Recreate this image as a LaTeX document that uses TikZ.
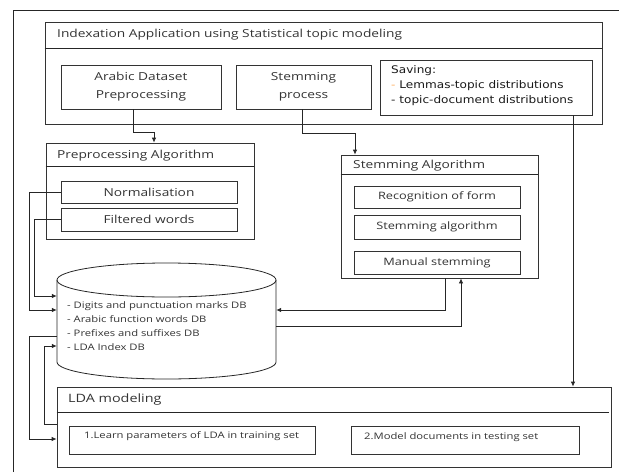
\documentclass[tikz,border=0pt]{standalone}
\usepackage{fontspec}
\setmainfont[FakeStretch=1.25]{Open Sans}
\newfontfamily\savfont[FakeStretch=1.15]{DejaVu Sans}
\usetikzlibrary{arrows.meta}
\begin{document}
\begin{tikzpicture}[x=1pt,y=-1pt,
  line/.style={draw=black!85, line width=0.8pt},
  arr/.style={line, -{Latex[length=5pt,width=4.5pt]}},
  boxx/.style={draw=black!80, line width=0.8pt, inner sep=0, text=black!80},
  lbl/.style={inner sep=0, anchor=west, text=black!80, font=\fontsize{11}{13}\selectfont},
  small/.style={inner sep=0, anchor=west, text=black!80, font=\fontsize{9}{11}\selectfont}
]
\useasboundingbox (0,0) rectangle (619,472);
% outer frame (cut by picture edge)
\draw[line] (13,472) -- (13,10) -- (619,10);

% top container
\node[boxx, minimum width=557pt, minimum height=102pt] (idx) at (323.5,73) {};
\draw[line] ([yshift=-27pt]idx.north west) -- ([yshift=-27pt]idx.north east);
\node[lbl] (idxt) at (57,35) {Indexation Application using Statistical topic modeling};

\node[boxx, minimum width=160pt, minimum height=44pt, align=center, font=\fontsize{11}{18}\selectfont] (ads) at (141,87) {Arabic Dataset\\Preprocessing};
\node[boxx, minimum width=135pt, minimum height=44pt, align=center, font=\fontsize{11}{18}\selectfont] (stp) at (303.5,87) {Stemming\\process};
\node[boxx, minimum width=212pt, minimum height=55pt] (sav) at (486,87.5) {};
\node[anchor=north west, inner sep=0, align=left, text=black!90, font=\savfont\fontsize{10.5}{15}\selectfont] (savt) at (391,65) {Saving:\\{\color{orange!60}-} Lemmas-topic distributions\\- topic-document distributions};

% preprocessing algorithm
\node[boxx, minimum width=208pt, minimum height=96pt] (pre) at (150,191) {};
\draw[line] ([yshift=-24pt]pre.north west) -- ([yshift=-24pt]pre.north east);
\node[lbl] (pret) at (57,156) {Preprocessing Algorithm};
\node[boxx, minimum width=176pt, minimum height=22pt, font=\fontsize{11}{13}\selectfont] (norm) at (149,192) {Normalisation};
\node[boxx, minimum width=176pt, minimum height=23pt, font=\fontsize{11}{13}\selectfont] (filt) at (149,219.5) {Filtered words};

% stemming algorithm
\node[boxx, minimum width=197pt, minimum height=123pt] (stm) at (439.5,216.5) {};
\draw[line] ([yshift=-20pt]stm.north west) -- ([yshift=-20pt]stm.north east);
\node[lbl] (stmt) at (353,166) {Stemming Algorithm};
\node[boxx, minimum width=166pt, minimum height=22pt, font=\fontsize{10.2}{13}\selectfont] (rec) at (437,197) {Recognition of form};
\node[boxx, minimum width=166pt, minimum height=24pt, font=\fontsize{10.2}{13}\selectfont] (salg) at (437,227) {Stemming algorithm};
\node[boxx, minimum width=166pt, minimum height=23pt, font=\fontsize{10.2}{13}\selectfont] (man) at (437,262.5) {Manual stemming};

% database cylinder
\node[inner sep=0, minimum width=219pt, minimum height=117pt] (db) at (166.5,321) {};
\draw[line] (166.5,280) ellipse [x radius=109.5, y radius=17];
\draw[line] (57,280) -- (57,362) .. controls (57,371.39) and (106.02,379) .. (166.5,379)
  .. controls (226.98,379) and (276,371.39) .. (276,362) -- (276,280);
\node[anchor=north west, inner sep=0, align=left, text=black!80, font=\fontsize{9}{14}\selectfont] (dbt) at (67,301)
  {- Digits and punctuation marks DB\\- Arabic function words DB\\- Prefixes and suffixes DB\\- LDA Index DB};

% LDA modeling
\node[boxx, minimum width=554pt, minimum height=80pt] (lda) at (334,427) {};
\draw[line] ([yshift=-26pt]lda.north west) -- ([xshift=-2pt,yshift=-26pt]lda.north east);
\node[lbl, font=\fontsize{11.5}{13}\selectfont] (ldat) at (68,400) {LDA modeling};
\node[boxx, minimum width=246pt, minimum height=28pt] (l1) at (192,440) {};
\node[small] (l1t) at (84,436) {1.Learn parameters of LDA in training set};
\node[boxx, minimum width=228pt, minimum height=28pt] (l2) at (465,440) {};
\node[small] (l2t) at (364,437) {2.Model documents in testing set};

% connectors
\draw[arr] ([xshift=-8pt]ads.south) -- ++(0,23) -| ([xshift=4pt]pre.north);
\draw[arr] ([xshift=-1.5pt]stp.south) -- ++(0,24) -| ([xshift=-84.5pt]stm.north);
\draw[arr] ([xshift=87pt]sav.south) -- ([xshift=239pt]lda.north);
\draw[arr] (norm.west) -| ([xshift=-27pt,yshift=11pt]db.west) -- ([yshift=11pt]db.west);
\draw[arr] (filt.west) -| ([xshift=-22pt,yshift=25pt]db.west) -- ([yshift=25pt]db.west);
\draw[arr] ([xshift=5.5pt]stm.south) |- ([yshift=11pt]db.east);
\draw[arr] ([yshift=-5pt]db.east) -| ([xshift=21.5pt]stm.south);
\draw[arr] ([yshift=-15pt]db.west) -- ++(-27,0) |- ([yshift=-12pt]lda.west);
\draw[arr] ([yshift=3pt]lda.west) -- ++(-12,0) |- ([yshift=-25pt]db.west);
\end{tikzpicture}
\end{document}
